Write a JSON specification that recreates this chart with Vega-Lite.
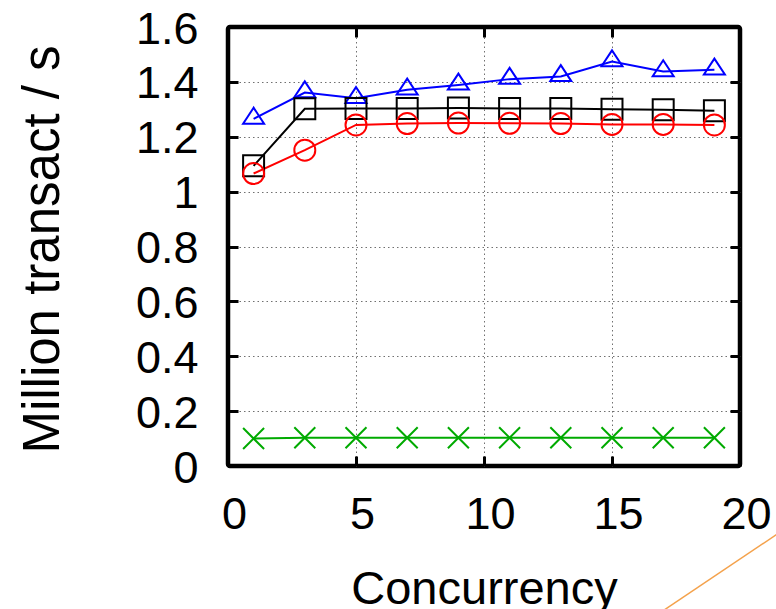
{
  "$schema": "https://vega.github.io/schema/vega-lite/v6.json",
  "width": 512,
  "height": 439,
  "autosize": {"type": "none"},
  "padding": {"left": 228, "top": 27, "right": 36, "bottom": 143},
  "config": {
    "font": "Liberation Sans",
    "view": {"stroke": "#000000", "strokeWidth": 4.5, "cornerRadius": 2}
  },
  "datasets": {
    "throughput": [
      {"series": "A", "concurrency": 1, "mtps": 1.265},
      {"series": "A", "concurrency": 3, "mtps": 1.361},
      {"series": "A", "concurrency": 5, "mtps": 1.340},
      {"series": "A", "concurrency": 7, "mtps": 1.371},
      {"series": "A", "concurrency": 9, "mtps": 1.389},
      {"series": "A", "concurrency": 11, "mtps": 1.410},
      {"series": "A", "concurrency": 13, "mtps": 1.420},
      {"series": "A", "concurrency": 15, "mtps": 1.474},
      {"series": "A", "concurrency": 17, "mtps": 1.438},
      {"series": "A", "concurrency": 19, "mtps": 1.444},
      {"series": "B", "concurrency": 1, "mtps": 1.094},
      {"series": "B", "concurrency": 3, "mtps": 1.302},
      {"series": "B", "concurrency": 5, "mtps": 1.303},
      {"series": "B", "concurrency": 7, "mtps": 1.303},
      {"series": "B", "concurrency": 9, "mtps": 1.305},
      {"series": "B", "concurrency": 11, "mtps": 1.303},
      {"series": "B", "concurrency": 13, "mtps": 1.303},
      {"series": "B", "concurrency": 15, "mtps": 1.300},
      {"series": "B", "concurrency": 17, "mtps": 1.298},
      {"series": "B", "concurrency": 19, "mtps": 1.295},
      {"series": "C", "concurrency": 1, "mtps": 1.066},
      {"series": "C", "concurrency": 3, "mtps": 1.151},
      {"series": "C", "concurrency": 5, "mtps": 1.243},
      {"series": "C", "concurrency": 7, "mtps": 1.248},
      {"series": "C", "concurrency": 9, "mtps": 1.250},
      {"series": "C", "concurrency": 11, "mtps": 1.249},
      {"series": "C", "concurrency": 13, "mtps": 1.248},
      {"series": "C", "concurrency": 15, "mtps": 1.245},
      {"series": "C", "concurrency": 17, "mtps": 1.245},
      {"series": "C", "concurrency": 19, "mtps": 1.243},
      {"series": "D", "concurrency": 1, "mtps": 0.100},
      {"series": "D", "concurrency": 3, "mtps": 0.103},
      {"series": "D", "concurrency": 5, "mtps": 0.103},
      {"series": "D", "concurrency": 7, "mtps": 0.103},
      {"series": "D", "concurrency": 9, "mtps": 0.103},
      {"series": "D", "concurrency": 11, "mtps": 0.103},
      {"series": "D", "concurrency": 13, "mtps": 0.103},
      {"series": "D", "concurrency": 15, "mtps": 0.103},
      {"series": "D", "concurrency": 17, "mtps": 0.103},
      {"series": "D", "concurrency": 19, "mtps": 0.103}
    ],
    "accent": [
      {"concurrency": 16.875, "mtps": -0.535},
      {"concurrency": 21.95, "mtps": -0.217}
    ]
  },
  "layer": [
    {
      "data": {"name": "throughput"},
      "mark": {"type": "line", "strokeWidth": 2},
      "encoding": {
        "x": {
          "field": "concurrency", "type": "quantitative",
          "scale": {"domain": [0, 20], "nice": false, "zero": false},
          "axis": {
            "orient": "bottom", "values": [0, 5, 10, 15, 20], "format": "d",
            "domain": false, "grid": false,
            "tickSize": -10, "tickWidth": 3, "tickColor": "#000000",
            "labelFontSize": 45, "labelColor": "#000000", "labelBaseline": "alphabetic",
            "labelPadding": 72, "labelOffset": 6, "labelFlush": false, "labelOverlap": false,
            "title": "Concurrency", "titleFontSize": 47, "titleFontWeight": "normal", "titleColor": "#000000",
            "titleX": 256, "titleY": 137, "titleAlign": "center", "titleBaseline": "alphabetic"
          }
        },
        "y": {
          "field": "mtps", "type": "quantitative",
          "scale": {"domain": [0, 1.6], "nice": false},
          "axis": {
            "orient": "left", "values": [0, 0.2, 0.4, 0.6, 0.8, 1, 1.2, 1.4, 1.6], "format": "~g",
            "domain": false, "grid": false,
            "tickSize": -10, "tickWidth": 3, "tickColor": "#000000",
            "labelFontSize": 45, "labelColor": "#000000", "labelBaseline": "alphabetic",
            "labelPadding": 40, "labelOffset": 16, "labelFlush": false, "labelOverlap": false,
            "title": "Million transact / s", "titleFontSize": 51, "titleFontWeight": "normal", "titleColor": "#000000",
            "titleAngle": 270, "titleX": -170, "titleY": 222, "titleAlign": "center", "titleBaseline": "alphabetic"
          }
        },
        "color": {
          "field": "series", "type": "nominal",
          "scale": {"domain": ["A", "B", "C", "D"], "range": ["#0000ff", "#000000", "#ff0000", "#00aa00"]},
          "legend": null
        }
      }
    },
    {
      "data": {"name": "throughput"},
      "mark": {"type": "point", "filled": false, "strokeWidth": 2, "size": 440, "opacity": 1},
      "encoding": {
        "x": {"field": "concurrency", "type": "quantitative", "axis": null},
        "y": {"field": "mtps", "type": "quantitative", "axis": null},
        "color": {"field": "series", "type": "nominal", "legend": null},
        "shape": {
          "field": "series", "type": "nominal",
          "scale": {"domain": ["A", "B", "C", "D"], "range": ["M0,-1.07L-1,0.45L1,0.45Z", "square", "circle", "M-1,-1L1,1M-1,1L1,-1"]},
          "legend": null
        }
      }
    },
    {
      "data": {"name": "throughput"},
      "mark": {"type": "point", "opacity": 0},
      "encoding": {
        "x": {
          "field": "concurrency", "type": "quantitative",
          "axis": {
            "orient": "top", "values": [5, 10, 15], "labels": false, "title": null, "domain": false,
            "grid": true, "gridColor": "#707070", "gridDash": [1.5, 3], "gridWidth": 1,
            "tickSize": -10, "tickWidth": 3, "tickColor": "#000000"
          }
        },
        "y": {
          "field": "mtps", "type": "quantitative",
          "axis": {
            "orient": "right", "values": [0.2, 0.4, 0.6, 0.8, 1, 1.2, 1.4], "labels": false, "title": null, "domain": false,
            "grid": true, "gridColor": "#707070", "gridDash": [1.5, 3], "gridWidth": 1,
            "tickSize": -10, "tickWidth": 3, "tickColor": "#000000"
          }
        }
      }
    },
    {
      "data": {"name": "accent"},
      "mark": {"type": "line", "clip": false, "color": "#f4a24c", "strokeWidth": 1.5},
      "encoding": {
        "x": {"field": "concurrency", "type": "quantitative", "axis": null},
        "y": {"field": "mtps", "type": "quantitative", "axis": null}
      }
    }
  ],
  "resolve": {"axis": {"x": "independent", "y": "independent"}}
}
